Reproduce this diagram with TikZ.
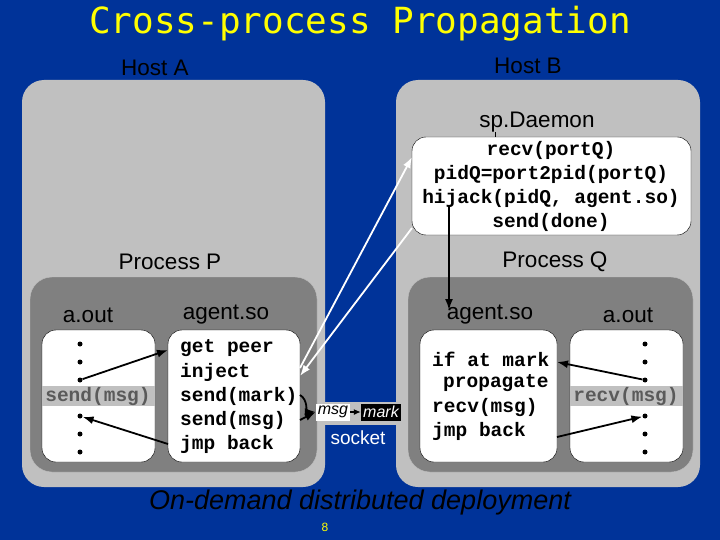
\documentclass[tikz,border=0pt]{standalone}
\usepackage{fontspec}
\setmainfont{Liberation Sans}
\newfontfamily\codefont{Liberation Mono}
\newfontfamily\titlefont{DejaVu Sans Mono}
\usetikzlibrary{arrows.meta}
\definecolor{bgblue}{RGB}{0,51,153}
\definecolor{lgray}{RGB}{192,192,192}
\definecolor{dgray}{RGB}{128,128,128}
\definecolor{ttl}{RGB}{255,255,0}
\begin{document}
\begin{tikzpicture}[x=1pt,y=-1pt,
  hostbox/.style={fill=lgray,rounded corners=22pt},
  procbox/.style={fill=dgray,draw=lgray,rounded corners=22pt},
  wbox/.style={fill=white,draw=black,rounded corners=14pt},
  lbl/.style={font=\fontsize{22.5}{26}\selectfont,inner sep=0pt},
  code/.style={font=\codefont\bfseries\fontsize{19.5}{24}\selectfont,align=left,inner sep=0pt},
  dotn/.style={circle,fill=black,inner sep=0pt,minimum size=5pt},
  arr/.style={-{Latex[length=11pt,width=8pt]},line width=1.8pt},
  warr/.style={-{Latex[length=11pt,width=8pt]},line width=1.8pt,white}]
\fill[bgblue] (0,0) rectangle (720,540);
\useasboundingbox (0,0) rectangle (720,540);
\node[font=\titlefont\fontsize{36}{40}\selectfont,text=ttl] (title) at (360,24) {Cross-process Propagation};
% hosts
\fill[hostbox] (22,80) rectangle (325,487);
\fill[hostbox] (396,80) rectangle (700,487);
\fill[lgray] (310,402) rectangle (410,425);
\node[lbl] (hA) at (155,68) {Host A};
\node[lbl] (hB) at (528,66) {Host B};
\node[lbl] (spd) at (537,122) {sp.Daemon};
\node[lbl] (pP) at (170,262) {Process P};
\node[lbl] (pQ) at (555,262) {Process Q};
\fill[procbox] (30,277) rectangle (317,472);
\fill[procbox] (408,277) rectangle (693,472);
\node[lbl] (aoP) at (88,315) {a.out};
\node[lbl] (asP) at (226,315) {agent.so};
\node[lbl] (asQ) at (490,315) {agent.so};
\node[lbl] (aoQ) at (628,315) {a.out};
% daemon box
\draw[wbox] (412,137) rectangle (691,235);
\coordinate (dtop) at (495,137);
\draw[line width=1pt] (spd.south -| dtop) -- (dtop);
\node[code,align=center] (dcode) at (551,186) {recv(portQ)\\pidQ=port2pid(portQ)\\hijack(pidQ, agent.so)\\send(done)};
% P boxes
\draw[wbox] (42,330) rectangle (155,462);
\draw[wbox] (168,330) rectangle (300,462);
\fill[lgray] (42,386) rectangle (155,406);
\node[code,text=dgray!70!black] (sm) at (98,396) {send(msg)};
\foreach \n/\y in {p1/344,p2/362,p3/380,p4/416,p5/434,p6/452} \node[dotn] (\n) at (80,\y) {};
\node[code,anchor=west] (gp) at (180,348) {get peer};
\node[code,anchor=west] (inj) at (180,372) {inject};
\node[code,anchor=west] (smk) at (180,396) {send(mark)};
\node[code,anchor=west] (smg) at (180,420) {send(msg)};
\node[code,anchor=west] (jbP) at (180,444) {jmp back};
% Q boxes
\draw[wbox] (420,330) rectangle (557,462);
\draw[wbox] (570,330) rectangle (683,462);
\fill[lgray] (570,386) rectangle (683,406);
\node[code,text=dgray!70!black] (rm) at (626,396) {recv(msg)};
\foreach \n/\y in {q1/344,q2/362,q3/380,q4/416,q5/434,q6/452} \node[dotn] (\n) at (645,\y) {};
\node[code,anchor=west] (iam) at (432,359) {if at mark};
\node[code,anchor=west] (prp) at (443,383) {propagate};
\node[code,anchor=west] (rcv) at (432,407) {recv(msg)};
\node[code,anchor=west] (jbQ) at (432,431) {jmp back};
% socket
\node[fill=white,inner sep=1pt,minimum width=34pt,minimum height=17pt,font=\itshape\fontsize{16}{16}\selectfont] (msg) at (333,412) {msg};
\node[fill=black,text=white,inner sep=1pt,minimum width=40pt,minimum height=17pt,font=\itshape\fontsize{16}{16}\selectfont] (mark) at (381,412) {mark};
\node[lbl,text=white,font=\fontsize{19}{20}\selectfont] (sock) at (358,438) {socket};
% arrows
\coordinate (agPin) at (168,350);
\draw[arr] (p3) -- (agPin);
\coordinate (agPout) at (168,444);
\draw[arr] (agPout) -- (p4);
\coordinate (mkout) at (300,395);
\draw[arr] (mkout) to[out=-30,in=180] (msg.west);
\coordinate (mgout) at (300,420);
\draw[arr] (mgout) -- (msg.west);
\draw[-{Latex[length=7pt,width=6pt]},line width=1.2pt] (msg.east) -- (mark.west);
\coordinate (agQin) at (557,362);
\draw[arr] (q3) -- (agQin);
\coordinate (agQout) at (557,437);
\draw[arr] (agQout) -- (q4);
\coordinate (vtop) at (449,205);
\coordinate (vbot) at (449,310);
\draw[arr] (vtop) -- (vbot);
\coordinate (w1s) at (300,368);
\coordinate (w1e) at (412,157);
\draw[warr] (w1s) -- (w1e);
\coordinate (w2s) at (412,228);
\coordinate (w2e) at (300,376);
\draw[warr] (w2s) -- (w2e);
% footer
\node[font=\itshape\fontsize{27}{30}\selectfont,text=black] (foot) at (360,503) {On-demand distributed deployment};
\node[font=\fontsize{12}{14}\selectfont,text=ttl] (pg) at (325,527) {8};
\end{tikzpicture}
\end{document}
